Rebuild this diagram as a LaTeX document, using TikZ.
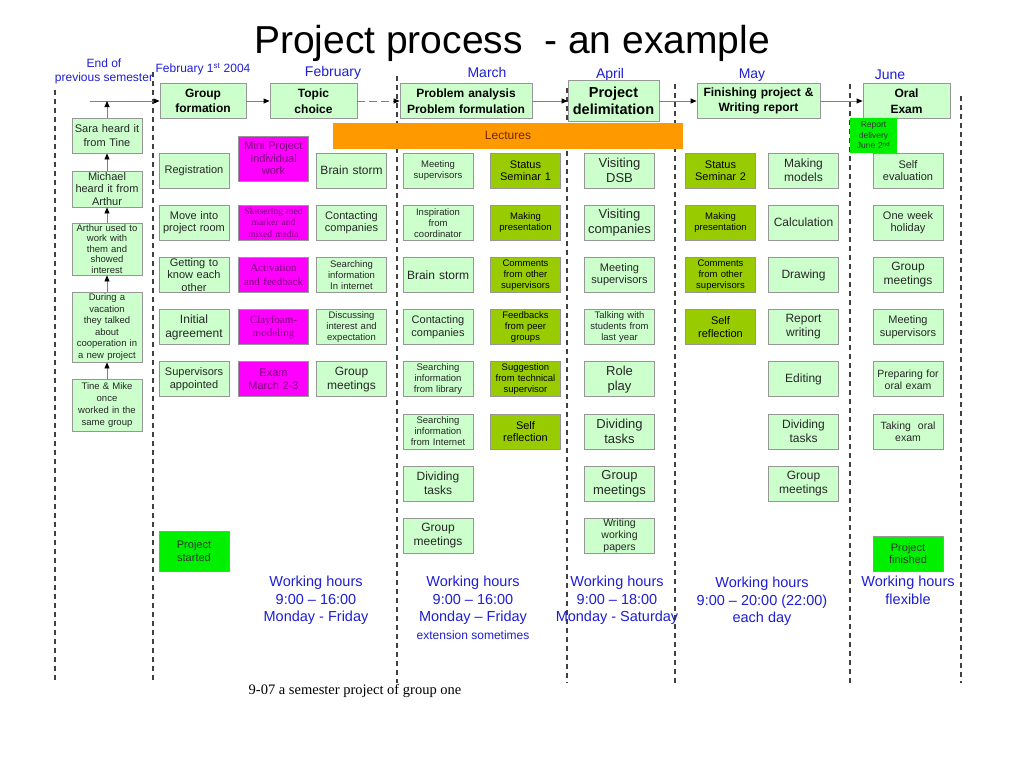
\documentclass[tikz,border=0pt]{standalone}
\usepackage{fontspec}
\setmainfont{Liberation Sans}
\newfontfamily\tms{Liberation Serif}
\usetikzlibrary{arrows.meta}

\definecolor{lgreen}{RGB}{204,255,204}
\definecolor{olv}{RGB}{153,204,0}
\definecolor{brgreen}{RGB}{0,240,0}
\definecolor{mgnt}{RGB}{255,0,255}
\definecolor{mgtext}{RGB}{120,0,120}
\definecolor{orng}{RGB}{255,153,0}
\definecolor{lectext}{RGB}{110,40,0}
\definecolor{mblue}{RGB}{30,30,210}
\definecolor{edge}{RGB}{150,150,150}

\begin{document}
\begin{tikzpicture}[x=1pt, y=-1pt]
    % ===================================
    % 設定
    % ===================================
    \def\dy{52.2}    % 行の間隔
    \def\yo{118.3}   % 0行目の位置
    \def\ty{101}     % 上の矢印の高さ
    \def\yb{683}     % 破線の下端

    \tikzset{
        t9/.style={font=\fontsize{9.5}{11}\selectfont},
        t10/.style={font=\fontsize{10.5}{12}\selectfont},
        t11/.style={font=\fontsize{11}{12.5}\selectfont},
        t12/.style={font=\fontsize{12}{14}\selectfont},
        t13/.style={font=\fontsize{13}{15}\selectfont},
        r9/.style={font=\tms\fontsize{9.5}{11.5}\selectfont},
        r11/.style={font=\tms\fontsize{11}{13.5}\selectfont},
        box/.style={draw=edge, line width=0.8pt, fill=lgreen, text=black!85,
            text width=68pt, inner sep=1pt, minimum height=35pt, align=center},
        magbox/.style={box, fill=mgnt, text=mgtext},
        olvbox/.style={box, fill=olv, text=black},
        grnbox/.style={box, fill=brgreen, text=black!80},
        headbox/.style={box, font=\bfseries\fontsize{12}{15.5}\selectfont, text=black},
        month/.style={text=mblue, font=\fontsize{14}{16}\selectfont, inner sep=0pt},
        hours/.style={text=mblue, font=\fontsize{14.5}{17.5}\selectfont,
            align=center, anchor=north, inner sep=0pt},
        flow/.style={draw=gray, line width=0.8pt,
            -{Triangle[length=6pt, width=5pt, color=black]}},
        vline/.style={draw=black!75, line width=1.1pt, dash pattern=on 5pt off 4pt}
    }
    % ===================================

    \useasboundingbox (0,0) rectangle (1024,768);

    % 1. 区切りの破線
    \foreach \x/\yt in {55/90, 153/72, 397/76, 567/88, 675/84, 850/84, 961/96}
        \draw[vline] (\x,\yt) -- (\x,\yb);

    % タイトルと月
    \node[anchor=base, font=\fontsize{39}{44}\selectfont, inner sep=0pt] (title) at (512,54)
        {Project process\ \ - an example};
    \node[month, t12, align=center] (m0) at (104,71) {End of\\previous semester};
    \node[month, t12] (m1) at (203,69) {February 1\textsuperscript{st} 2004};
    \node[month] (m2) at (333,73) {February};
    \node[month] (m3) at (487,72) {March};
    \node[month] (m4) at (610,75) {April};
    \node[month] (m5) at (752,75) {May};
    \node[month] (m6) at (890,75) {June};

    % 2. 上段の流れ
    \node[headbox, text width=84pt] (s1) at (203,\ty) {Group\\formation};
    \node[headbox, text width=85pt] (s2) at (313.5,\ty) {Topic\\choice};
    \node[headbox, text width=130pt] (s3) at (466,\ty) {Problem analysis\\Problem formulation};
    \node[headbox, text width=89pt, minimum height=41pt,
        font=\bfseries\fontsize{14.5}{17}\selectfont] (s4) at (613.5,\ty) {Project\\delimitation};
    \node[headbox, text width=121pt] (s5) at (758.5,\ty) {Finishing project \&\\Writing report};
    \node[headbox, text width=85pt] (s6) at (906.5,\ty) {Oral\\Exam};

    \coordinate (t0) at (90,\ty);
    \coordinate (t1) at (107,\ty);
    \draw[flow] (t0) -- (s1);
    \draw[flow] (s1) -- (s2);
    \draw[flow, dash pattern=on 8pt off 4pt] (s2) -- (s3);
    \draw[flow] (s3) -- (s4);
    \draw[flow] (s4) -- (s5);
    \draw[flow] (s5) -- (s6);

    \node[fill=orng, minimum width=350pt, minimum height=26pt, inner sep=0pt,
        text=lectext, t12] (lec) at (508,135.5) {Lectures};
    \node[grnbox, draw=none, text width=45pt, font=\fontsize{8.5}{10.5}\selectfont]
        (rep) at (873.5,135.5) {Report\\delivery\\June 2\textsuperscript{nd}};

    % 3. 左の列 (下から上へ)
    \node[box, t11, font=\fontsize{11}{13.5}\selectfont] (l1) at (107,135.5) {Sara heard it\\from Tine};
    \node[box, t11, minimum height=36pt] (l2) at (107,189) {Michael\\heard it from\\Arthur};
    \node[box, font=\fontsize{9.5}{10.4}\selectfont, minimum height=52pt] (l3) at (107,249)
        {Arthur used to\\work with\\them and\\showed\\interest};
    \node[box, t9, font=\fontsize{9.5}{11.6}\selectfont, minimum height=70pt] (l4) at (107,327)
        {During a\\vacation\\they talked\\about\\cooperation in\\a new project};
    \node[box, t9, font=\fontsize{9.5}{12}\selectfont, minimum height=52pt] (l5) at (107,405)
        {Tine \& Mike\\once\\worked in the\\same group};
    \draw[flow] (l1) -- (t1);
    \foreach \u/\v in {l2/l1, l3/l2, l4/l3, l5/l4}
        \draw[flow] (\u) -- (\v);

    % 4. 各列のボックス
    \def\xa{194}
    \foreach \i/\f/\txt in {1/t11/{Registration}, 2/t11/{Move into\\project room},
            3/t11/{Getting to\\know each\\other}, 4/t12/{Initial\\agreement},
            5/t11/{Supervisors\\appointed}}
        \node[box, \f] (a\i) at (\xa, \yo+\dy*\i) {\txt};
    \node[grnbox, t11, minimum height=40pt] (ps) at (\xa,551) {Project\\started};

    \def\xb{273.5}
    \node[magbox, t11, minimum height=45pt] (b1) at (\xb,158.5) {Mini Project\\Individual\\work};
    \foreach \i/\f/\txt in {2/r9/{Skitsering med\\marker and\\mixed media},
            3/r11/{Activation\\and feedback}, 4/r11/{Clayfoam-\\modeling},
            5/t11/{Exam\\March 2-3}}
        \node[magbox, \f] (b\i) at (\xb, \yo+\dy*\i) {\txt};

    \def\xc{351.5}
    \foreach \i/\f/\txt in {1/t12/{Brain storm}, 2/t11/{Contacting\\companies},
            3/t9/{Searching\\information\\In internet}, 4/t9/{Discussing\\interest and\\expectation},
            5/t12/{Group\\meetings}}
        \node[box, \f] (c\i) at (\xc, \yo+\dy*\i) {\txt};

    \def\xd{438}
    \foreach \i/\f/\txt in {1/t9/{Meeting\\supervisors}, 2/t9/{Inspiration\\from\\coordinator},
            3/t12/{Brain storm}, 4/t11/{Contacting\\companies},
            5/t9/{Searching\\information\\from library}, 6/t9/{Searching\\information\\from Internet},
            7/t12/{Dividing\\tasks}, 8/t12/{Group\\meetings}}
        \node[box, \f] (d\i) at (\xd, \yo+\dy*\i) {\txt};

    \def\xe{525.5}
    \foreach \i/\f/\txt in {1/t11/{Status\\Seminar 1}, 2/t9/{Making\\presentation},
            3/t9/{Comments\\from other\\supervisors}, 4/t9/{Feedbacks\\from peer\\groups},
            5/t9/{Suggestion\\from technical\\supervisor}, 6/t11/{Self\\reflection}}
        \node[olvbox, \f] (e\i) at (\xe, \yo+\dy*\i) {\txt};

    \def\xf{619.5}
    \foreach \i/\f/\txt in {1/t13/{Visiting\\DSB}, 2/t13/{Visiting\\companies},
            3/t11/{Meeting\\supervisors}, 4/t9/{Talking with\\students from\\last year},
            5/t13/{Role\\play}, 6/t13/{Dividing\\tasks}, 7/t13/{Group\\meetings},
            8/t10/{Writing\\working\\papers}}
        \node[box, \f] (f\i) at (\xf, \yo+\dy*\i) {\txt};

    \def\xg{720.5}
    \foreach \i/\f/\txt in {1/t11/{Status\\Seminar 2}, 2/t9/{Making\\presentation},
            3/t9/{Comments\\from other\\supervisors}, 4/t11/{Self\\reflection}}
        \node[olvbox, \f] (g\i) at (\xg, \yo+\dy*\i) {\txt};

    \def\xh{803.5}
    \foreach \i/\f/\txt in {1/t12/{Making\\models}, 2/t12/{Calculation}, 3/t12/{Drawing},
            4/t12/{Report\\writing}, 5/t12/{Editing}, 6/t12/{Dividing\\tasks},
            7/t12/{Group\\meetings}}
        \node[box, \f] (h\i) at (\xh, \yo+\dy*\i) {\txt};

    \def\xk{908}
    \foreach \i/\f/\txt in {1/t11/{Self\\evaluation}, 2/t11/{One week\\holiday},
            3/t12/{Group\\meetings}, 4/t11/{Meeting\\supervisors},
            5/t10/{Preparing for\\oral exam}, 6/t10/{Taking\ \ oral\\exam}}
        \node[box, \f] (k\i) at (\xk, \yo+\dy*\i) {\txt};
    \node[grnbox, t11] (pf) at (\xk,553.5) {Project\\finished};

    % 5. 作業時間
    \node[hours] (w1) at (316,576) {Working hours\\9:00 -- 16:00\\Monday - Friday};
    \node[hours] (w2) at (473,576) {Working hours\\9:00 -- 16:00\\Monday -- Friday\\
        {\fontsize{12}{14}\selectfont extension sometimes}};
    \node[hours] (w3) at (617,576) {Working hours\\9:00 -- 18:00\\Monday - Saturday};
    \node[hours] (w4) at (762,577) {Working hours\\9:00 -- 20:00 (22:00)\\each day};
    \node[hours] (w5) at (908,576) {Working hours\\flexible};

    \node[anchor=base, font=\tms\fontsize{14.5}{17}\selectfont, inner sep=0pt] (cap)
        at (355,694) {9-07 a semester project of group one};

\end{tikzpicture}
\end{document}
